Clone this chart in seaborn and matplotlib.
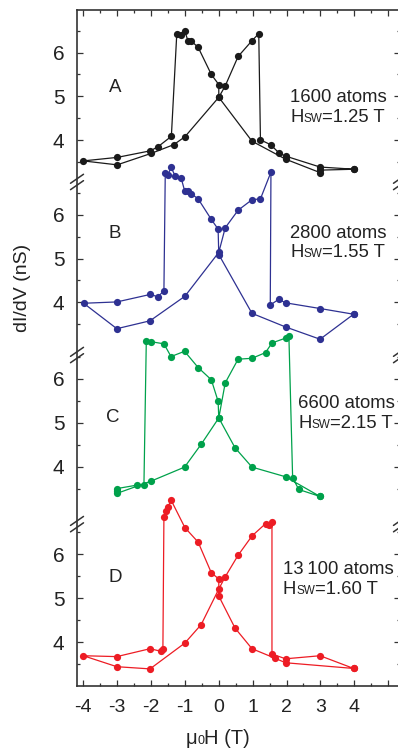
import numpy as np
import pandas as pd
import matplotlib
matplotlib.use("Agg")
import matplotlib.pyplot as plt
import seaborn as sns
from matplotlib.offsetbox import TextArea, HPacker, AnnotationBbox
from matplotlib.lines import Line2D
from matplotlib.transforms import blended_transform_factory, IdentityTransform

# ---------------- data (field in T, dI/dV in nS), loop order ----------------
a_field = [4.0, 3.0, 3.0, 1.97, 0.98, 0.0, 0.0, -0.22, -0.61, -0.81, -0.91, -1.01, -1.11, -1.24,
           -1.40, -1.80, -2.02, -3.0, -4.0,
           -3.0, -2.0, -1.33, -1.0, 0.0, 0.19, 0.57, 0.98, 1.18, 1.23, 1.53, 1.78, 1.97, 2.99, 4.0]
a_didv = [3.34, 3.32, 3.26, 3.57, 3.98, 4.98, 5.27, 5.50, 6.12, 6.26, 6.27, 6.50, 6.41, 6.43,
          4.09, 3.85, 3.76, 3.61, 3.53,
          3.44, 3.70, 3.90, 4.08, 4.98, 5.24, 5.91, 6.27, 6.43, 4.01, 3.90, 3.71, 3.64, 3.39, 3.34]

b_field = [3.98, 2.99, 1.97, 0.98, 0.0, -0.02, -0.22, -0.61, -0.82, -0.91, -1.01, -1.11, -1.28,
           -1.41, -1.50, -1.58, -1.62, -1.80, -2.03, -3.01, -3.99,
           -3.01, -2.03, -1.0, 0.0, 0.19, 0.57, 0.98, 1.23, 1.54, 1.52, 1.77, 1.97, 2.99, 3.98]
b_didv = [3.73, 3.16, 3.44, 3.75, 5.09, 5.67, 5.89, 6.36, 6.48, 6.53, 6.55, 6.83, 6.87,
          7.08, 6.91, 6.96, 4.26, 4.13, 4.18, 4.01, 3.98,
          3.40, 3.58, 4.14, 5.14, 5.70, 6.10, 6.34, 6.36, 6.97, 3.94, 4.07, 3.99, 3.86, 3.73]

c_field = [2.99, 1.97, 0.98, 0.48, 0.0, -0.02, -0.22, -0.61, -1.01, -1.41, -1.62, -2.01, -2.14,
           -2.21, -2.41, -3.01,
           -3.01, -3.01, -2.0, -1.01, -0.52, 0.0, 0.19, 0.57, 0.98, 1.38, 1.57, 1.97, 2.07,
           2.18, 2.36, 2.99]
c_didv = [3.32, 3.77, 3.99, 4.43, 5.11, 5.49, 5.98, 6.26, 6.63, 6.51, 6.80, 6.85, 6.87,
          3.58, 3.58, 3.50,
          3.45, 3.39, 3.67, 3.99, 4.51, 5.11, 5.91, 6.45, 6.47, 6.60, 6.82, 6.93, 6.97,
          3.75, 3.48, 3.32]

d_field = [3.98, 1.97, 1.67, 0.98, 0.48, 0.0, 0.0, -0.22, -0.61, -1.0, -1.41, -1.50, -1.55, -1.62,
           -1.65, -1.70, -2.03, -3.01, -4.0,
           -3.01, -2.03, -1.0, -0.52, 0.0, 0.19, 0.57, 0.98, 1.38, 1.48, 1.57, 1.57, 1.97, 2.99, 3.98]
d_didv = [3.40, 3.53, 3.63, 3.85, 4.32, 5.05, 5.44, 5.58, 6.28, 6.61, 7.24, 7.07, 6.99, 6.85,
          3.85, 3.79, 3.85, 3.67, 3.69,
          3.44, 3.39, 3.98, 4.40, 5.21, 5.49, 5.98, 6.42, 6.70, 6.68, 6.73, 3.73, 3.62, 3.69, 3.40]

panel_letters = ["A", "B", "C", "D"]
panel_atoms = ["1600 atoms", "2800 atoms", "6600 atoms", "13\u2009100 atoms"]
panel_hsw = ["=1.25 T", "=1.55 T", "=2.15 T", "=1.60 T"]
panel_colors = ["#1a1a1a", "#2e3192", "#00a14b", "#ed1c24"]
panel_offsets = [11.44, 7.745, 4.0, 0.0]
break_levels = [14.49, 10.545, 6.69]
ylim = (3.0, 18.41)
xlim = (-4.186, 5.35)
x_major = [-4, -3, -2, -1, 0, 1, 2, 3, 4, 5]
x_labels = ["-4", "-3", "-2", "-1", "0", "1", "2", "3", "4", ""]
y_major = [4, 5, 6]
y_minor = [3.5, 4.5, 5.5, 6.5]

# ---------------- figure ----------------
sns.set_style("ticks")
plt.rcParams["font.family"] = ["Liberation Sans", "DejaVu Sans"]
W, H = 398, 750
fig = plt.figure(figsize=(W / 100, H / 100), dpi=100)
ax = fig.add_axes([77 / W, 1 - 686 / H, (400 - 77) / W, (686 - 10) / H])

series = [(a_field, a_didv), (b_field, b_didv), (c_field, c_didv), (d_field, d_didv)]
for i, ((fx, fy), col, off) in enumerate(zip(series, panel_colors, panel_offsets)):
    df = pd.DataFrame({"field": fx, "g": np.array(fy) + off, "order": np.arange(len(fx))})
    sns.lineplot(data=df, x="field", y="g", sort=False, estimator=None, color=col,
                 linewidth=0.9, marker="o", markersize=5.2, markeredgewidth=0,
                 markerfacecolor=col, ax=ax, clip_on=False)

ax.set_xlim(*xlim)
ax.set_ylim(*ylim)
ax.set_xlabel("")
ax.set_ylabel("")

# x ticks
ax.set_xticks(x_major)
ax.set_xticklabels(x_labels)
ax.set_xticks(np.arange(-4.0, 5.01, 0.5), minor=True)

# y ticks per panel
bounds = [(break_levels[0], ylim[1]), (break_levels[1], break_levels[0]),
          (break_levels[2], break_levels[1]), (ylim[0], break_levels[2])]
maj, labs, mnr = [], [], []
for off, (lo, hi) in zip(panel_offsets, bounds):
    for v in y_major:
        maj.append(v + off)
        labs.append(str(v))
    for v in y_minor:
        if lo < v + off < hi:
            mnr.append(v + off)
ax.set_yticks(maj)
ax.set_yticklabels(labs)
ax.set_yticks(mnr, minor=True)

spine_col = "#333333"
for s in ax.spines.values():
    s.set_visible(True)
    s.set_color(spine_col)
    s.set_linewidth(1.2)
ax.tick_params(which="both", direction="in", top=True, right=True, color=spine_col, width=0.9)
ax.tick_params(which="major", length=4)
ax.tick_params(which="minor", length=2.5)
ax.tick_params(axis="y", which="major", labelsize=15, pad=9, labelcolor="#222222")
ax.tick_params(axis="x", which="major", labelsize=14, pad=9.5, labelcolor="#222222")

# break marks on both spines
fig.canvas.draw()
trans = blended_transform_factory(ax.transAxes, ax.transData)
for yb in break_levels:
    for xa in (0.0, 1.0):
        px, py = trans.transform((xa, yb))
        for dy in (-3.2, 3.2):
            fig.add_artist(Line2D([px - 6.5, px + 6.5], [py + dy - 4.5, py + dy + 4.5],
                                  transform=IdentityTransform(), color=spine_col, lw=1.1))

# panel letters
letter_pos = [(115, 88), (115, 233), (113, 417), (115, 577)]
for L, (x, y) in zip(panel_letters, letter_pos):
    fig.text(x / W, 1 - y / H, L, ha="center", va="center", fontsize=13.5, color="#222222")

# annotations
annot_pos = [(290, 97, 117), (290, 233, 253), (298, 403, 424), (283, 570, 590)]
for atoms, hsw, (x, y1, y2) in zip(panel_atoms, panel_hsw, annot_pos):
    fig.text(x / W, 1 - y1 / H, atoms, ha="left", va="center", fontsize=13.3, color="#222222")
    pk = HPacker(children=[TextArea("H", textprops=dict(size=13.3, color="#222222")),
                           TextArea("SW", textprops=dict(size=8.5, color="#222222")),
                           TextArea(hsw, textprops=dict(size=13.3, color="#222222"))],
                 align="baseline", pad=0, sep=0)
    ab = AnnotationBbox(pk, (x / W, 1 - y2 / H), xycoords="figure fraction",
                        box_alignment=(0, 0.5), frameon=False, pad=0)
    fig.add_artist(ab)

# axis labels
fig.text(23 / W, 1 - 288 / H, "dI/dV (nS)", rotation=90, ha="center", va="center",
         fontsize=14, color="#222222")
pk = HPacker(children=[TextArea("\u03bc", textprops=dict(size=14.5, color="#222222")),
                       TextArea("0", textprops=dict(size=9, color="#222222")),
                       TextArea("H (T)", textprops=dict(size=14.5, color="#222222"))],
             align="baseline", pad=0, sep=0)
ab = AnnotationBbox(pk, (218 / W, 1 - 738 / H), xycoords="figure fraction",
                    box_alignment=(0.5, 0.5), frameon=False, pad=0)
fig.add_artist(ab)

fig.savefig("out.png", dpi=100)
